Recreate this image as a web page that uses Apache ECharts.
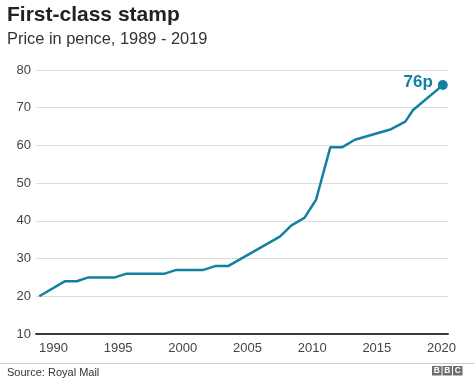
<!DOCTYPE html>
<html>
<head>
<meta charset="utf-8">
<script src="https://cdn.jsdelivr.net/npm/echarts@6/dist/echarts.min.js"></script>
<style>
html,body{margin:0;padding:0;background:#fff;}
#chart{width:474px;height:385px;}
</style>
</head>
<body>
<div id="chart"></div>
<script>
// Data (vertices of the price line)
const years  = [1988.9, 1990.9, 1991.8, 1992.7, 1994.75, 1995.65, 1998.6, 1999.5, 2001.6, 2002.5, 2003.5, 2007.5, 2008.4, 2009.4, 2010.3, 2011.4, 2012.3, 2013.3, 2016.1, 2017.2, 2017.8, 2020.1];
const prices = [20, 24, 24, 25, 25, 26, 26, 27, 27, 28, 28, 35.8, 38.8, 40.8, 45.6, 59.5, 59.5, 61.5, 64.3, 66.3, 69.4, 76];
const xTickLabels = [1990, 1995, 2000, 2005, 2010, 2015, 2020];
const yTicks = [10, 20, 30, 40, 50, 60, 70, 80];

const titleText = 'First-class stamp';
const subtitleText = 'Price in pence, 1989 - 2019';
const sourceText = 'Source: Royal Mail';

const FONT = '"Liberation Sans", Arial, Helvetica, sans-serif';
const TEAL = '#1380A1';
const last = prices.length - 1;

const lineData = years.map((y, i) => {
  if (i === last) {
    return {
      value: [y, prices[i]],
      symbol: 'circle',
      symbolSize: 10,
      label: {
        show: true,
        position: 'left',
        distance: 5,
        offset: [0, -3],
        formatter: p => Math.round(p.value[1]) + 'p',
        color: TEAL,
        fontFamily: FONT,
        fontSize: 17,
        fontWeight: 'bold'
      }
    };
  }
  return { value: [y, prices[i]], symbol: 'none' };
});

const chart = echarts.init(document.getElementById('chart'), null, { renderer: 'canvas' });
chart.setOption({
  animation: false,
  backgroundColor: '#ffffff',
  title: {
    text: titleText,
    subtext: subtitleText,
    left: 2,
    top: 0,
    itemGap: 5,
    textStyle: { fontFamily: FONT, fontSize: 21, fontWeight: 'bold', color: '#222222' },
    subtextStyle: { fontFamily: FONT, fontSize: 16.4, color: '#333333' }
  },
  grid: { left: 36, right: 26, top: 70, bottom: 51, containLabel: false },
  xAxis: {
    type: 'value',
    min: 1988.65,
    max: 2020.5,
    axisLine: { show: true, lineStyle: { color: '#3a3a3a', width: 2 } },
    axisTick: { show: false },
    splitLine: { show: false },
    axisLabel: {
      customValues: xTickLabels,
      margin: 8,
      color: '#444444',
      fontFamily: FONT,
      fontSize: 13,
      formatter: v => String(v)
    }
  },
  yAxis: {
    type: 'value',
    min: yTicks[0],
    max: yTicks[yTicks.length - 1],
    interval: 10,
    axisLine: { show: false },
    axisTick: { show: false },
    splitLine: { show: true, lineStyle: { color: '#dddddd', width: 1 } },
    axisLabel: { margin: 5, color: '#444444', fontFamily: FONT, fontSize: 13 }
  },
  series: [{
    type: 'line',
    data: lineData,
    showSymbol: true,
    lineStyle: { color: TEAL, width: 2.5 },
    itemStyle: { color: TEAL },
    z: 5
  }],
  graphic: [
    { type: 'line', shape: { x1: 0, y1: 363.5, x2: 474, y2: 363.5 }, style: { stroke: '#cccccc', lineWidth: 1 } },
    { type: 'text', left: 7, top: 367.5, style: { text: sourceText, fontFamily: FONT, fontSize: 11, fill: '#333333' } },
    { type: 'rect', shape: { x: 432, y: 366, width: 9.5, height: 9.5 }, style: { fill: '#6e6e6e' } },
    { type: 'rect', shape: { x: 442.5, y: 366, width: 9.5, height: 9.5 }, style: { fill: '#6e6e6e' } },
    { type: 'rect', shape: { x: 453, y: 366, width: 9.5, height: 9.5 }, style: { fill: '#6e6e6e' } },
    { type: 'text', x: 436.75, y: 371, style: { text: 'B', fontFamily: FONT, fontSize: 8.5, fontWeight: 'bold', fill: '#fff', align: 'center', verticalAlign: 'middle' } },
    { type: 'text', x: 447.25, y: 371, style: { text: 'B', fontFamily: FONT, fontSize: 8.5, fontWeight: 'bold', fill: '#fff', align: 'center', verticalAlign: 'middle' } },
    { type: 'text', x: 457.75, y: 371, style: { text: 'C', fontFamily: FONT, fontSize: 8.5, fontWeight: 'bold', fill: '#fff', align: 'center', verticalAlign: 'middle' } }
  ]
});
</script>
</body>
</html>
